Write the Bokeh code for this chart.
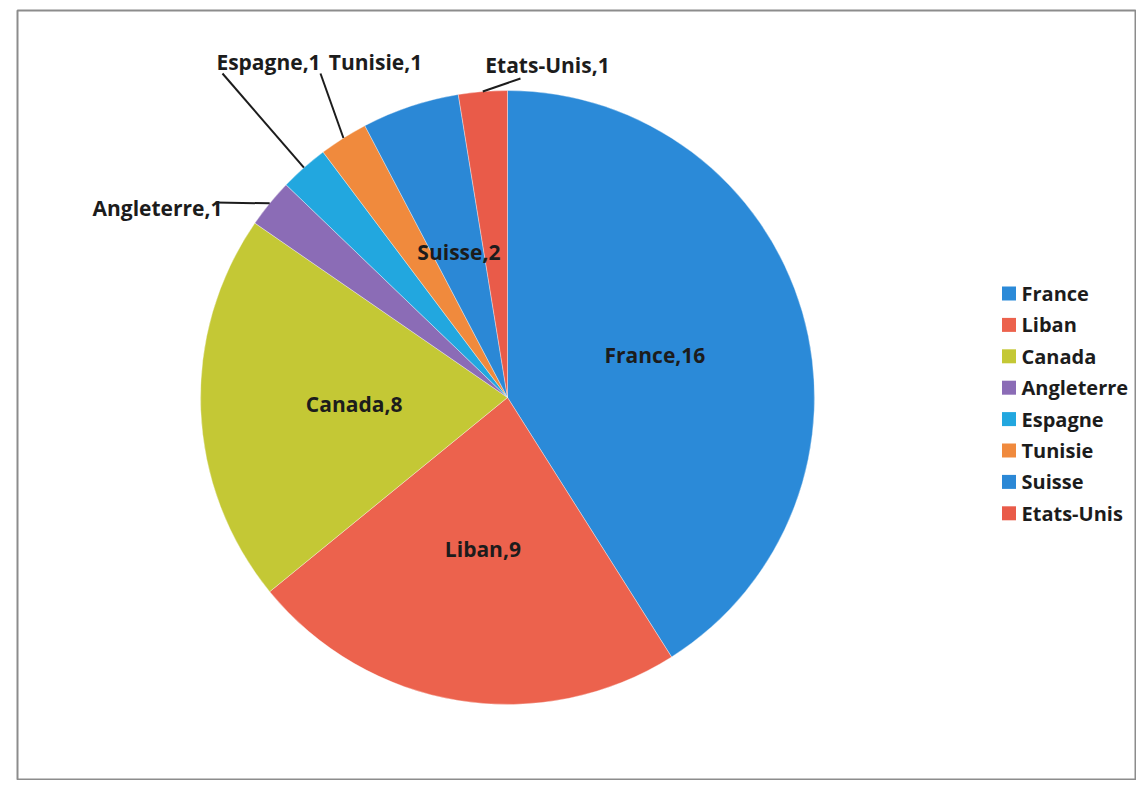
import math
from bokeh.plotting import figure
from bokeh.models import Range1d, ColumnDataSource
from bokeh.core.properties import value
from bokeh.embed import file_html
from bokeh.resources import INLINE

countries = ["France", "Liban", "Canada", "Angleterre", "Espagne", "Tunisie", "Suisse", "Etats-Unis"]
counts = [16, 9, 8, 1, 1, 1, 2, 1]
colors = ["#2b8ad8", "#ec624d", "#c4c835", "#8b6cb6", "#22a7df", "#f08a3d", "#2b88d6", "#e95b49"]

W, H = 1136, 780
PAGE_H = 788
FONT = "Open Sans"
FS = "21px"
TXT = "#1c1c1c"

def py(y):  # page y -> data y
    return PAGE_H - y

p = figure(width=W, height=H, output_backend="svg", toolbar_location=None,
           x_range=Range1d(0, W), y_range=Range1d(PAGE_H - H, PAGE_H),
           min_border=0, outline_line_color=None)
p.axis.visible = False
p.grid.visible = False
p.background_fill_color = "white"

# frame border
p.quad(left=[17], right=[W - 1], bottom=[py(H - 1)], top=[py(10)],
       fill_color=None, line_color="#8c8c8c", line_width=2)

cx, cy, R = 507, py(397), 307
total = sum(counts)
starts, ends, mids = [], [], []
cum = 0
for c in counts:
    a0 = math.pi / 2 - 2 * math.pi * cum / total
    cum += c
    a1 = math.pi / 2 - 2 * math.pi * cum / total
    starts.append(a0)
    ends.append(a1)
    mids.append((a0 + a1) / 2)

src = ColumnDataSource(dict(start=starts, end=ends, color=colors, name=countries))
p.wedge(x=cx, y=cy, radius=R, start_angle="start", end_angle="end", direction="clock",
        fill_color="color", line_color="white", line_alpha=0.35, line_width=1, source=src)

labels = [f"{n},{v}" for n, v in zip(countries, counts)]

# inside labels
inside = [0, 1, 2, 6]
ix = [cx + 0.5 * R * math.cos(mids[i]) for i in inside]
iy = [cy + 0.5 * R * math.sin(mids[i]) for i in inside]
p.text(x=ix, y=iy, text=[labels[i] for i in inside], text_align="center", text_baseline="middle",
       text_font=value(FONT), text_font_size=FS, text_font_style="bold", text_color=TXT)

# outside labels with leader lines
outside = [3, 4, 5, 7]
lab_pos = {3: (157, 207), 4: (268, 61), 5: (375, 61), 7: (547, 64)}
line_from = {3: (215, 202), 4: (222, 73), 5: (320, 73), 7: (520, 78)}
xs, ys = [], []
for i in outside:
    ex = cx + R * math.cos(mids[i])
    ey = cy + R * math.sin(mids[i])
    sx, sy = line_from[i]
    xs.append([sx, ex])
    ys.append([py(sy), ey])
p.multi_line(xs=xs, ys=ys, line_color="#1c1c1c", line_width=2)
p.text(x=[lab_pos[i][0] for i in outside], y=[py(lab_pos[i][1]) for i in outside],
       text=[labels[i] for i in outside], text_align="center", text_baseline="middle",
       text_font=value(FONT), text_font_size=FS, text_font_style="bold", text_color=TXT)

# legend
ly0, ldy = 293, 31.4
lys = [py(ly0 + k * ldy) for k in range(len(countries))]
p.rect(x=[1008.5] * len(countries), y=lys, width=14, height=14, fill_color=colors, line_color=None)
p.text(x=[1021] * len(countries), y=lys, text=countries, text_align="left", text_baseline="middle",
       text_font=value(FONT), text_font_size="20px", text_font_style="bold", text_color=TXT)

open("out.html", "w").write(file_html(p, INLINE))
